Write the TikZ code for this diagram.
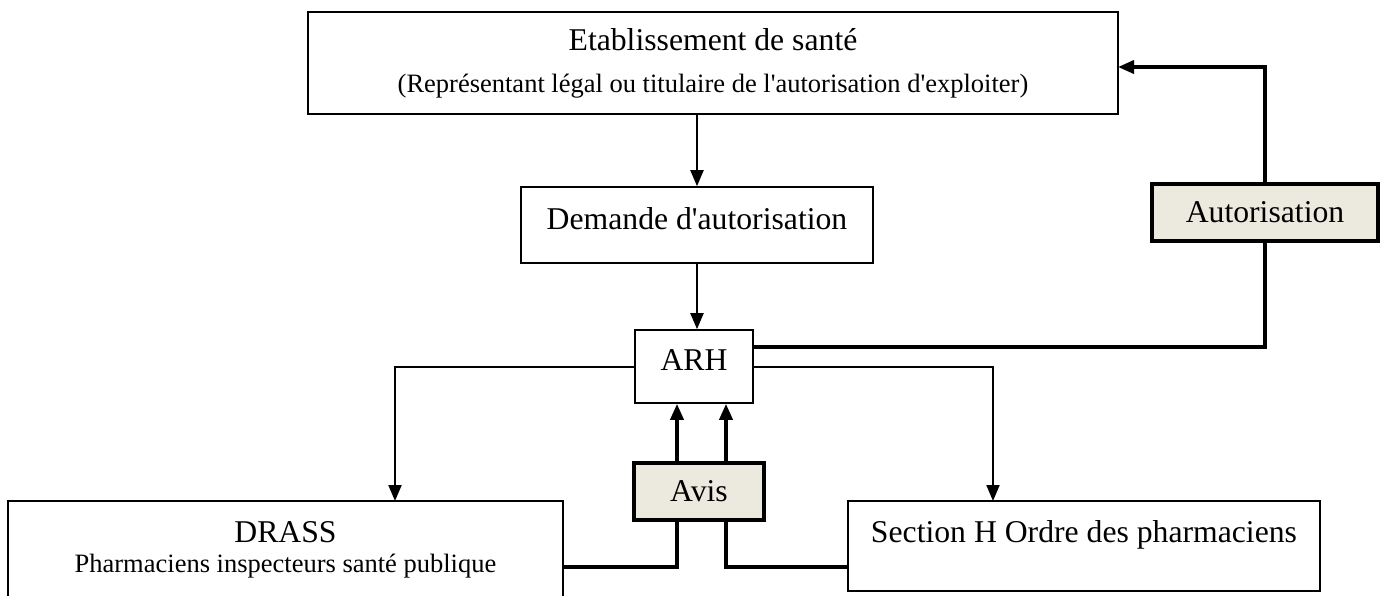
\documentclass[tikz,border=0pt]{standalone}
\usepackage{fontspec}
\setmainfont{Liberation Serif}
\usetikzlibrary{arrows.meta}
\definecolor{beige}{RGB}{236,233,223}
\tikzset{
  box/.style={draw=black, line width=1.6pt, fill=white, inner sep=0pt, align=center,
    font=\fontsize{31.7}{36}\selectfont},
  greybox/.style={draw=black, line width=3.6pt, fill=beige, inner sep=0pt,
    font=\fontsize{31.7}{36}\selectfont},
  thinline/.style={draw=black, line width=2pt},
  thickline/.style={draw=black, line width=3.6pt},
  tip/.style={-{Triangle[length=16pt,width=13pt]}}
}
\begin{document}
\begin{tikzpicture}[x=1pt,y=-1pt]
\useasboundingbox (0,0) rectangle (1385,595);
\clip (0,0) rectangle (1385,595);
% boxes
\node[box, minimum width=810pt, minimum height=102pt] (top) at (713,63)
  {Etablissement de santé\\[6pt]{\fontsize{26.5}{30}\selectfont (Représentant légal ou titulaire de l\textquotesingle autorisation d\textquotesingle exploiter)}};
\node[box, minimum width=352pt, minimum height=76pt, text depth=14pt] (dem) at (697,225) {Demande d\textquotesingle autorisation};
\node[box, minimum width=118pt, minimum height=73pt, text depth=13pt] (arh) at (694,366.5) {ARH};
\node[greybox, minimum width=130pt, minimum height=57pt] (avis) at (699,491.5) {Avis};
\node[greybox, minimum width=226pt, minimum height=57pt] (auto) at (1265,212.5) {Autorisation};
\node[box, minimum width=555pt, minimum height=98pt] (drass) at (285.5,550)
  {DRASS\\[-6pt]{\fontsize{26.5}{30}\selectfont Pharmaciens inspecteurs santé publique}};
\node[box, minimum width=472pt, minimum height=90pt, text depth=29pt] (sec) at (1084,546) {Section H Ordre des pharmaciens};
% helper coordinates
\coordinate (dIn) at (395,501);
\coordinate (sIn) at (993,501);
\coordinate (aOut) at (753,347);
\coordinate (tIn) at (1118,67);
\coordinate (xl) at (677,0);
\coordinate (xr) at (726,0);
\coordinate (yl) at (0,567);
% connectors
\draw[thinline, tip] (top.south -| dem.north) -- (dem.north);
\draw[thinline, tip] (dem.south) -- (dem.south |- arh.north);
\draw[thinline, tip] (arh.west) -| (dIn);
\draw[thinline, tip] (arh.east) -| (sIn);
\draw[thickline] (aOut) -| (auto.south);
\draw[thickline, tip] (auto.north) |- (tIn);
\draw[thickline, tip] (avis.north -| xl) -- (arh.south -| xl);
\draw[thickline, tip] (avis.north -| xr) -- (arh.south -| xr);
\draw[thickline] (drass.east |- yl) -| (avis.south -| xl);
\draw[thickline] (sec.west |- yl) -| (avis.south -| xr);
\end{tikzpicture}
\end{document}
